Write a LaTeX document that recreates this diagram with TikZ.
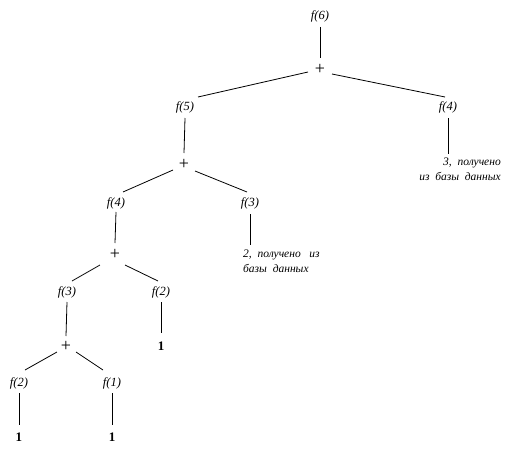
\documentclass[tikz,border=0pt]{standalone}
\usepackage{fontspec}
\setmainfont{Liberation Serif}
\begin{document}
\begin{tikzpicture}[x=1pt,y=-1pt,
  fn/.style={font=\fontsize{12.5}{15}\selectfont\itshape, inner sep=0pt},
  pl/.style={font=\fontsize{18}{20}\selectfont, inner sep=0pt},
  one/.style={font=\fontsize{13}{15}\selectfont\bfseries, inner sep=0pt},
  note/.style={font=\fontsize{11.5}{15}\selectfont\itshape, inner sep=0pt},
  edge/.style={line width=0.8pt, black}]
\useasboundingbox (0,0) rectangle (514,452);
% nodes
\node[fn] (f6) at (320,16) {f(6)};
\node[pl] (p1) at (320,69) {+};
\node[fn] (f5) at (185,107) {f(5)};
\node[fn] (f4r) at (448,107) {f(4)};
\node[pl] (p2) at (184,164) {+};
\node[fn] (f3r) at (250,203) {f(3)};
\node[fn] (f4) at (116,203) {f(4)};
\node[note, anchor=north east, align=right] (t3) at (501,158) {3,\ \ получено\\из\ \ базы\ \ данных};
\node[note, anchor=north west, align=left] (t2) at (243,250) {2,\ \ получено\ \ \ из\\базы\ \ данных};
\node[pl] (p3) at (115,254) {+};
\node[fn] (f3) at (67,292) {f(3)};
\node[fn] (f2r) at (161,292) {f(2)};
\node[one] (o1) at (161,346) {1};
\node[pl] (p4) at (66,346) {+};
\node[fn] (f2) at (19,383) {f(2)};
\node[fn] (f1) at (112,383) {f(1)};
\node[one] (o2) at (19,437) {1};
\node[one] (o3) at (112,437) {1};
% vertical connectors
\draw[edge] ([shift={(0,11)}]f6.center) -- ([shift={(0,-11)}]p1.center);
\draw[edge] ([shift={(0,11)}]f5.center) -- ([shift={(0,-11)}]p2.center);
\draw[edge] ([shift={(0,11)}]f4r.center) -- ([shift={(0,-4)}]f4r.center |- t3.north);
\draw[edge] ([shift={(0,11)}]f3r.center) -- ([shift={(0,-5)}]f3r.center |- t2.north);
\draw[edge] ([shift={(0,9)}]f4.center) -- ([shift={(0,-11)}]p3.center);
\draw[edge] ([shift={(0,10)}]f3.center) -- ([shift={(0,-10)}]p4.center);
\draw[edge] ([shift={(0,10)}]f2r.center) -- ([shift={(0,-13)}]o1.center);
\draw[edge] ([shift={(0,10)}]f2.center) -- ([shift={(0,-12)}]o2.center);
\draw[edge] ([shift={(0,10)}]f1.center) -- ([shift={(0,-12)}]o3.center);
% diagonal connectors
\draw[edge] ([shift={(-12,3)}]p1.center) -- ([shift={(13,-10)}]f5.center);
\draw[edge] ([shift={(12,5)}]p1.center) -- ([shift={(-3,-10)}]f4r.center);
\draw[edge] ([shift={(-11,6)}]p2.center) -- ([shift={(7,-11)}]f4.center);
\draw[edge] ([shift={(11,7)}]p2.center) -- ([shift={(-3,-11)}]f3r.center);
\draw[edge] ([shift={(-15,11)}]p3.center) -- ([shift={(5,-11)}]f3.center);
\draw[edge] ([shift={(10,11)}]p3.center) -- ([shift={(-3,-11)}]f2r.center);
\draw[edge] ([shift={(-9,6)}]p4.center) -- ([shift={(6,-13)}]f2.center);
\draw[edge] ([shift={(10,6)}]p4.center) -- ([shift={(-9,-13)}]f1.center);
\end{tikzpicture}
\end{document}
